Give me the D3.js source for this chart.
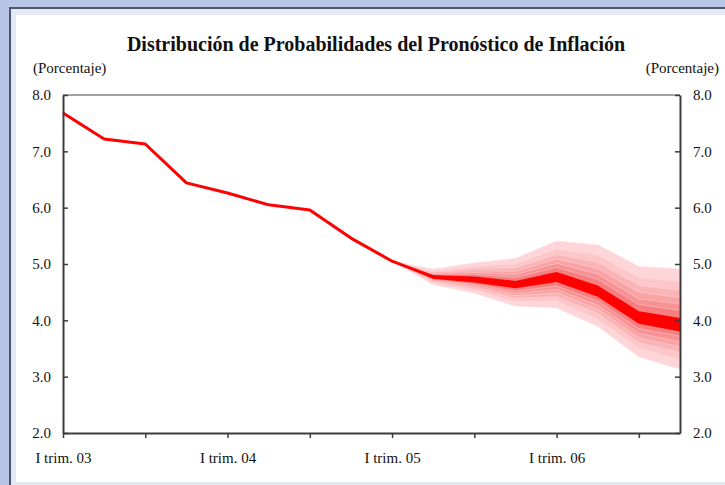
<!DOCTYPE html>
<html>
<head>
<meta charset="utf-8">
<script src="https://cdn.jsdelivr.net/npm/d3@7"></script>
<style>
  body { margin: 0; background: #b7c6e6; }
  svg { display: block; }
  text { font-family: "Liberation Serif", "DejaVu Serif", serif; fill: #111; }
</style>
</head>
<body>
<div id="chart"></div>
<script>
// quarterly inflation, I trim. 03 .. IV trim. 06
const inflation = [7.68, 7.22, 7.13, 6.44, 6.26, 6.05, 5.96, 5.46,
                   5.05, 4.77, 4.72, 4.63, 4.77, 4.52, 4.05, 3.92];
const xLabels = { 0: "I trim. 03", 4: "I trim. 04", 8: "I trim. 05", 12: "I trim. 06" };
const xTicks = [0, 2, 4, 6, 8, 10, 12, 14];
const yTicks = [2, 3, 4, 5, 6, 7, 8];

// fan chart starts at I trim. 05 (index 8)
const fanStart = 8;
// band bounds, outer -> inner, last one is the central band
const fanUpper = [
  [5.05, 4.91, 5.02, 5.10, 5.41, 5.34, 4.96, 4.91],
  [5.05, 4.88, 4.96, 5.00, 5.27, 5.16, 4.76, 4.69],
  [5.05, 4.86, 4.92, 4.93, 5.17, 5.03, 4.62, 4.53],
  [5.05, 4.85, 4.88, 4.87, 5.09, 4.92, 4.50, 4.40],
  [5.05, 4.83, 4.85, 4.81, 5.01, 4.82, 4.38, 4.29],
  [5.05, 4.82, 4.82, 4.76, 4.94, 4.73, 4.28, 4.18],
  [5.05, 4.80, 4.78, 4.70, 4.86, 4.62, 4.16, 4.04]
];
const fanLower = [
  [5.05, 4.63, 4.48, 4.25, 4.22, 3.89, 3.35, 3.13],
  [5.05, 4.66, 4.53, 4.33, 4.34, 4.02, 3.50, 3.30],
  [5.05, 4.68, 4.56, 4.39, 4.42, 4.12, 3.60, 3.43],
  [5.05, 4.69, 4.59, 4.44, 4.49, 4.20, 3.69, 3.53],
  [5.05, 4.71, 4.62, 4.48, 4.55, 4.27, 3.77, 3.62],
  [5.05, 4.72, 4.64, 4.52, 4.61, 4.34, 3.85, 3.72],
  [5.05, 4.74, 4.67, 4.57, 4.68, 4.42, 3.94, 3.80]
];
const fanColors = ["#fed6d9", "#fdc6c8", "#fbb4b6", "#f9a3a5", "#f79193", "#f57f81", "#ff0000"];

var W = 725, H = 485;
var margin = { top: 95, right: 45, bottom: 52, left: 63 };

var svg = d3.select("#chart").append("svg").attr("width", W).attr("height", H);

// window frame
svg.append("rect").attr("width", W).attr("height", H).attr("fill", "#b7c6e6");
svg.append("rect").attr("x", 9).attr("y", 7).attr("width", W - 9).attr("height", H - 7).attr("fill", "#50566a");
svg.append("rect").attr("x", 11).attr("y", 9).attr("width", W - 11).attr("height", H - 9).attr("fill", "#e3e8f4");
svg.append("rect").attr("x", 16).attr("y", 15).attr("width", W - 16).attr("height", 467).attr("fill", "#fff");

var x = d3.scaleLinear().domain([0, 15]).range([margin.left, W - margin.right]);
var y = d3.scaleLinear().domain([2, 8]).range([H - margin.bottom, margin.top]);

// title
svg.append("text")
  .attr("x", 376).attr("y", 51)
  .attr("text-anchor", "middle")
  .style("font-size", "20px").style("font-weight", "bold")
  .text("Distribución de Probabilidades del Pronóstico de Inflación");

svg.append("text").attr("x", 33).attr("y", 73).style("font-size", "15px").text("(Porcentaje)");
svg.append("text").attr("x", 719).attr("y", 73).attr("text-anchor", "end").style("font-size", "15px").text("(Porcentaje)");

// top frame line of plot
svg.append("line")
  .attr("x1", x(0)).attr("x2", x(15))
  .attr("y1", y(8)).attr("y2", y(8))
  .attr("stroke", "#a3a3a3").attr("stroke-width", 2);

// fan bands
var area = d3.area()
  .x((d, i) => x(fanStart + i))
  .y0(d => y(d[0]))
  .y1(d => y(d[1]));

fanUpper.forEach(function (up, k) {
  var pts = up.map((u, i) => [fanLower[k][i], u]);
  svg.append("path")
    .attr("d", area(pts))
    .attr("fill", fanColors[k])
    .attr("stroke", k < fanColors.length - 1 ? "#ffe4e6" : "none")
    .attr("stroke-width", 0.4);
});

// inflation line
var line = d3.line().x((d, i) => x(i)).y(d => y(d));
svg.append("path")
  .attr("d", line(inflation))
  .attr("fill", "none")
  .attr("stroke", "#ff0000")
  .attr("stroke-width", 3)
  .attr("stroke-linejoin", "round");

// axes
function styleAxis(g) {
  g.select(".domain").attr("stroke", "#3c3c3c").attr("stroke-width", 2);
  g.selectAll(".tick line").attr("stroke", "#3c3c3c").attr("stroke-width", 1.5);
  g.selectAll(".tick text").style("font-size", "15px").attr("fill", "#111")
    .style("font-family", '"Liberation Serif", serif');
}

svg.append("g")
  .attr("transform", "translate(" + x(0) + ",0)")
  .call(d3.axisLeft(y).tickValues(yTicks).tickSize(-5).tickSizeOuter(0).tickPadding(12).tickFormat(d3.format(".1f")))
  .call(styleAxis);

svg.append("g")
  .attr("transform", "translate(" + x(15) + ",0)")
  .call(d3.axisRight(y).tickValues(yTicks).tickSize(-5).tickSizeOuter(0).tickPadding(13).tickFormat(d3.format(".1f")))
  .call(styleAxis);

svg.append("g")
  .attr("transform", "translate(0," + y(2) + ")")
  .call(d3.axisBottom(x).tickValues(xTicks).tickSize(5).tickSizeOuter(0).tickPadding(14)
    .tickFormat(d => xLabels[d] || ""))
  .call(styleAxis);
</script>
</body>
</html>
